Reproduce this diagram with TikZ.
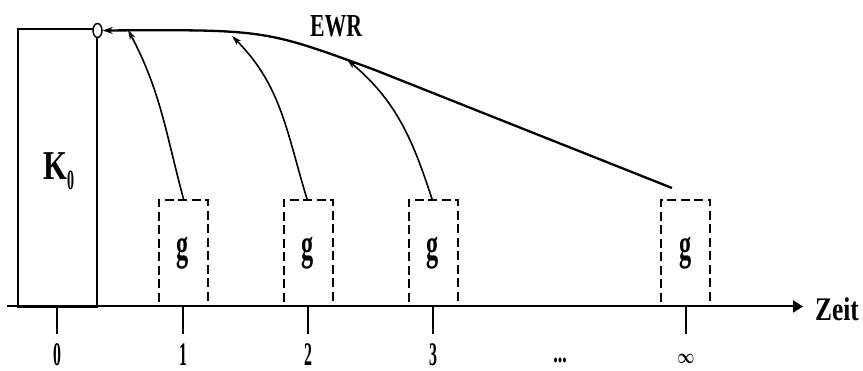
\documentclass[tikz,border=0pt]{standalone}
\usepackage{fontspec}
\setmainfont{Liberation Serif}
\usepackage{graphicx}
\usetikzlibrary{arrows.meta,shapes.geometric}

% condensed text: horizontal factor, size, text
\newcommand{\sqtext}[3]{\scalebox{#1}[1]{\fontsize{#2}{#2}\selectfont\bfseries #3}}

\begin{document}
\begin{tikzpicture}[x=1pt,y=-1pt,
  axisline/.style={line width=2pt},
  frame/.style={draw,line width=2pt,inner sep=0pt},
  gbox/.style={draw,line width=2pt,dash pattern=on 9pt off 4.5pt,
    minimum width=49pt,minimum height=106pt,inner sep=0pt},
  tick/.style={line width=1.5pt},
  flow/.style={line width=1.6pt,-{Stealth[length=10pt,width=6pt]}},
  ewr/.style={line width=2.3pt,-{Stealth[length=10pt,width=7pt]}},
  ticklbl/.style={inner sep=0pt,anchor=center}]
\useasboundingbox (0,0) rectangle (863,371);

% capital block K0
\node[frame,minimum width=79pt,minimum height=278pt,anchor=north west] (kbox) at (17,28) {};
\node[inner sep=0pt,anchor=base west] (klbl) at (43,180)
  {\sqtext{0.75}{41pt}{K}\raisebox{-10pt}{\sqtext{0.5}{28pt}{0}}};
\node[ellipse,draw,line width=1.5pt,fill=white,minimum width=9pt,minimum height=14pt,inner sep=0pt] (c0) at (97.5,30.5) {};

% time axis
\coordinate (axs) at (7,306.5);
\coordinate (axe) at (803,306.5);
\draw[axisline,-{Triangle[length=10pt,width=12pt]}] (axs) -- (axe);
\node[inner sep=0pt] (zeit) at (837,309) {\sqtext{0.77}{33pt}{Zeit}};

% payment boxes
\node[gbox] (g1) at (183,253) {\sqtext{0.55}{44pt}{g}};
\node[gbox] (g2) at (308,253) {\sqtext{0.55}{44pt}{g}};
\node[gbox] (g3) at (433,253) {\sqtext{0.55}{44pt}{g}};
\node[gbox] (g4) at (685.5,253) {\sqtext{0.55}{44pt}{g}};

% ticks and period labels
\foreach \n/\x in {0/57,1/183,2/308,3/433,4/686}{
  \coordinate (ta\n) at (\x,306.5);
  \coordinate (tb\n) at (\x,334);
}
\foreach \n in {0,...,4}{\draw[tick] (ta\n) -- (tb\n);}
\node[ticklbl] (l0) at (57,355) {\sqtext{0.48}{33pt}{0}};
\node[ticklbl] (l1) at (183,355) {\sqtext{0.48}{33pt}{1}};
\node[ticklbl] (l2) at (308,355) {\sqtext{0.48}{33pt}{2}};
\node[ticklbl] (l3) at (433,355) {\sqtext{0.48}{33pt}{3}};
\node[ticklbl] (ldots) at (560,360) {\sqtext{0.6}{30pt}{...}};
\node[ticklbl] (linf) at (686,359) {\scalebox{0.72}[1]{\fontsize{22pt}{22pt}\selectfont\boldmath$\infty$}};

% discounting curve (EWR)
\coordinate (ewr0) at (672,188);
\coordinate (knee) at (375,70);
\coordinate (kc) at (265,29.5);
\draw[ewr] (ewr0) -- (knee) .. controls (kc) .. (c0.east);
\node[inner sep=0pt] (ewrlbl) at (336,26) {\sqtext{0.68}{32pt}{EWR}};

% present values of the single payments
\coordinate (p1) at (128,29.8);
\coordinate (p2) at (232,36);
\coordinate (p3) at (347,59.5);
\draw[flow] ([xshift=0.5pt]g1.north) to[out=105,in=-62] (p1);
\draw[flow] ([xshift=-1pt]g2.north) to[out=107,in=-45] (p2);
\draw[flow] ([xshift=-1pt]g3.north) to[out=108,in=-40] (p3);
\end{tikzpicture}
\end{document}
